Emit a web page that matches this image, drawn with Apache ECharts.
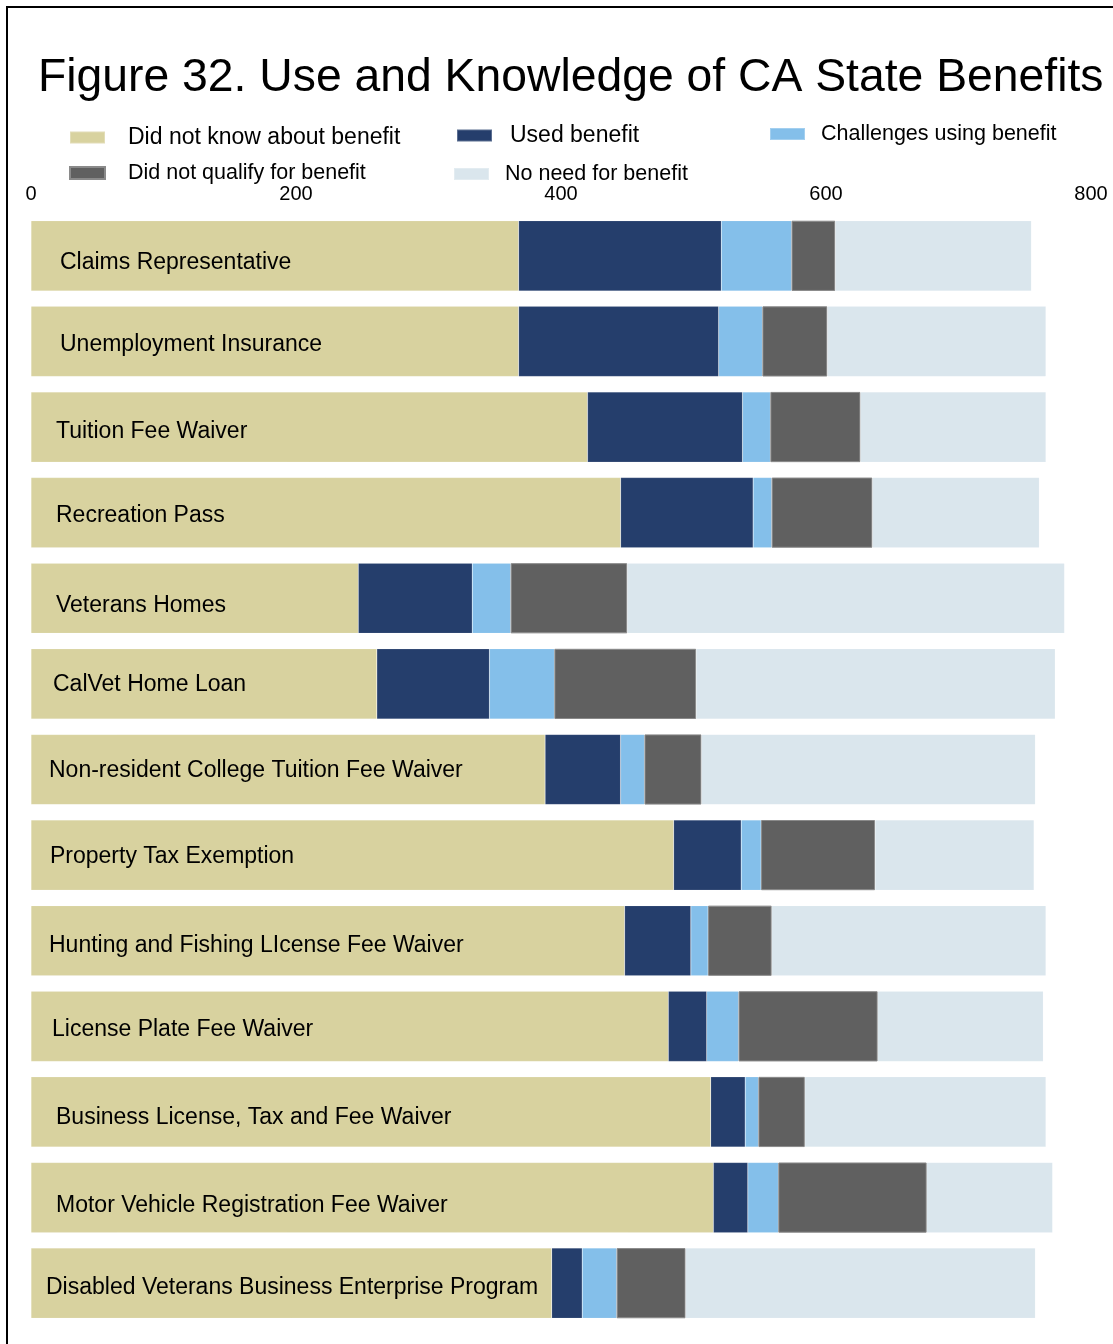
<!DOCTYPE html>
<html><head><meta charset="utf-8">
<script src="https://cdn.jsdelivr.net/npm/echarts@6/dist/echarts.min.js"></script>
<style>html,body{margin:0;padding:0;background:#fff}#c{width:1113px;height:1344px}</style>
</head><body><div id="c"></div>
<script>
const categories = ["Claims Representative","Unemployment Insurance","Tuition Fee Waiver","Recreation Pass","Veterans Homes","CalVet Home Loan","Non-resident College Tuition Fee Waiver","Property Tax Exemption","Hunting and Fishing LIcense Fee Waiver","License Plate Fee Waiver","Business License, Tax and Fee Waiver","Motor Vehicle Registration Fee Waiver","Disabled Veterans Business Enterprise Program"];
const didNotKnow = [368,368,420,445,247,261,388,485,448,481,513,515,393];
const usedBenefit = [153,151,117,100,86,85,57,51,50,29,26,26,23];
const challenges = [53,33,21,14,29,49,18,15,13,24,10,23,26];
const didNotQualify = [33,49,68,76,88,107,43,86,48,105,35,112,52];
const noNeed = [148,165,140,126,330,271,252,120,207,125,182,95,264];
const seriesNames = ["Did not know about benefit","Used benefit","Challenges using benefit","Did not qualify for benefit","No need for benefit"];
const xTicks = [0,200,400,600,800];

const colors = ["#D8D29F","#253E6C","#84BFEA","#606060","#DAE6ED"];
const values = [didNotKnow, usedBenefit, challenges, didNotQualify, noNeed];
const chart = echarts.init(document.getElementById('c'), null, {renderer:'canvas'});
const font = 'Liberation Sans, Arial, sans-serif';
// legend layout (style only)
const legendPos = [[69,126],[456,124],[769,123],[69,162],[453,163]];
const legendFont = [23,23,21.5,21.5,21.5];
const legendPad = [18,13,11,18,11];
const legends = seriesNames.map((n,i)=>({
  data:[n], left:legendPos[i][0], top:legendPos[i][1], itemWidth:35, itemHeight:12, icon:'rect',
  padding:0, selectedMode:false,
  textStyle:{fontFamily:font, fontSize:legendFont[i], color:'#000', padding:[0,0,0,legendPad[i]]}
}));
// per-row label nudges (style only)
const labelDx = [19,19,15,15,15,12,8,9,8,11,15,15,5];
const labelDy = [7,3,5,3,7,1,1,2,5,3,6,8,4];
const rich = {};
labelDx.forEach((dx,i)=>{ rich['r'+i] = {fontFamily:font, fontSize:23, color:'#000', padding:[labelDy[i]*2,0,0,dx]}; });
chart.setOption({
  animation:false,
  color:colors,
  title:{text:"Figure 32. Use and Knowledge of CA State Benefits", left:33, top:50,
    textStyle:{fontFamily:font, fontSize:46.3, fontWeight:'normal', color:'#000'}},
  legend:legends,
  graphic:[{type:'rect', shape:{x:7,y:7,width:2000,height:2000}, style:{fill:'none', stroke:'#000', lineWidth:2}, silent:true}],
  grid:{left:31, right:22, top:213, height:1113},
  xAxis:{type:'value', position:'top', min:0, max:800, interval:200,
    axisLine:{show:false}, axisTick:{show:false}, splitLine:{show:false},
    axisLabel:{fontFamily:font, fontSize:20, color:'#000', margin:9,
      formatter:v=>xTicks.includes(v)?String(v):''}},
  yAxis:{type:'category', inverse:true, data:categories,
    axisLine:{show:false}, axisTick:{show:false},
    axisLabel:{inside:true, margin:10, fontFamily:font, fontSize:23, color:'#000',
      formatter:(v,i)=>'{r'+i+'|'+v+'}', rich:rich},
    z:10},
  series:values.map((d,i)=>({
    name:seriesNames[i], type:'bar', stack:'t', data:d, barCategoryGap:'18%',
    itemStyle:{color:colors[i], borderColor: i===3 ? '#8a8a8a' : 'rgba(255,255,255,0.25)', borderWidth: i===3?1:0.5}
  }))
});
</script></body></html>
